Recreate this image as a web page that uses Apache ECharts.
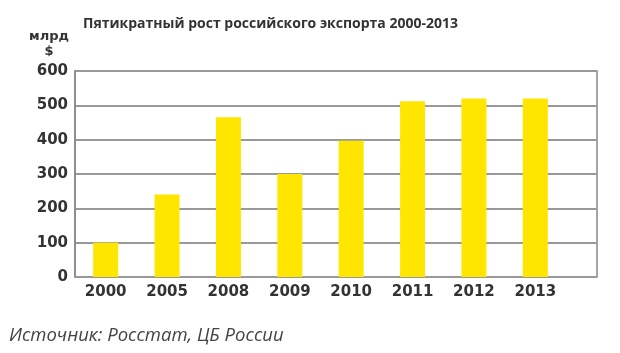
<!DOCTYPE html>
<html>
<head>
<meta charset="utf-8">
<script src="https://cdn.jsdelivr.net/npm/echarts@6/dist/echarts.min.js"></script>
<style>
  html, body { margin: 0; padding: 0; background: #fff; }
  #chart { width: 620px; height: 353px; }
</style>
</head>
<body>
<div id="chart"></div>
<script>
const years = ['2000', '2005', '2008', '2009', '2010', '2011', '2012', '2013'];
const exportBn = [100, 240, 465, 300, 397, 512, 520, 520];
const yTicks = { min: 0, max: 600, interval: 100 };

const chart = echarts.init(document.getElementById('chart'));

const axisFont = { fontFamily: 'DejaVu Sans', fontWeight: 'bold', fontSize: 15, color: '#333' };

const option = {
  animation: false,
  backgroundColor: '#fff',
  title: {
    text: 'Пятикратный рост российского экспорта 2000-2013',
    left: 83, top: 17, padding: 0,
    textStyle: { fontFamily: 'Open Sans', fontWeight: 'bold', fontSize: 14, color: '#333' }
  },
  graphic: [
    {
      type: 'text', x: 49, y: 37,
      style: { text: 'млрд', x: 0, y: 0, align: 'center', verticalAlign: 'middle',
        font: 'bold 13px "DejaVu Sans"', fill: '#333' }
    },
    {
      type: 'text', x: 49, y: 52,
      style: { text: '$', x: 0, y: 0, align: 'center', verticalAlign: 'middle',
        font: 'bold 13px "DejaVu Sans"', fill: '#333' }
    },
    {
      type: 'text', x: 9, y: 336,
      style: { text: 'Источник: Росстат, ЦБ России', x: 0, y: 0, align: 'left', verticalAlign: 'middle',
        font: 'italic 18.5px "Open Sans"', fill: '#444' }
    }
  ],
  grid: [
    { left: 75, top: 71, width: 522, height: 206, show: true, borderColor: '#888', borderWidth: 1.5 },
    { left: 75, top: 71, width: 491, height: 206 }
  ],
  xAxis: [
    { gridIndex: 0, type: 'category', data: [''], show: false },
    {
      gridIndex: 1, type: 'category', data: years,
      axisLine: { show: false }, axisTick: { show: false },
      axisLabel: Object.assign({ margin: 8 }, axisFont)
    }
  ],
  yAxis: [
    {
      gridIndex: 0, type: 'value', min: yTicks.min, max: yTicks.max, interval: yTicks.interval,
      axisLine: { show: true, lineStyle: { color: '#888', width: 1.5 } },
      axisTick: { show: false },
      splitLine: { lineStyle: { color: '#999', width: 2 } },
      axisLabel: Object.assign({ margin: 7 }, axisFont)
    },
    {
      gridIndex: 1, type: 'value', min: yTicks.min, max: yTicks.max, interval: yTicks.interval, show: false
    }
  ],
  series: [
    {
      type: 'bar', xAxisIndex: 1, yAxisIndex: 1, data: exportBn,
      barWidth: 25, itemStyle: { color: '#FFE600' }
    }
  ]
};

chart.setOption(option);
</script>
</body>
</html>
